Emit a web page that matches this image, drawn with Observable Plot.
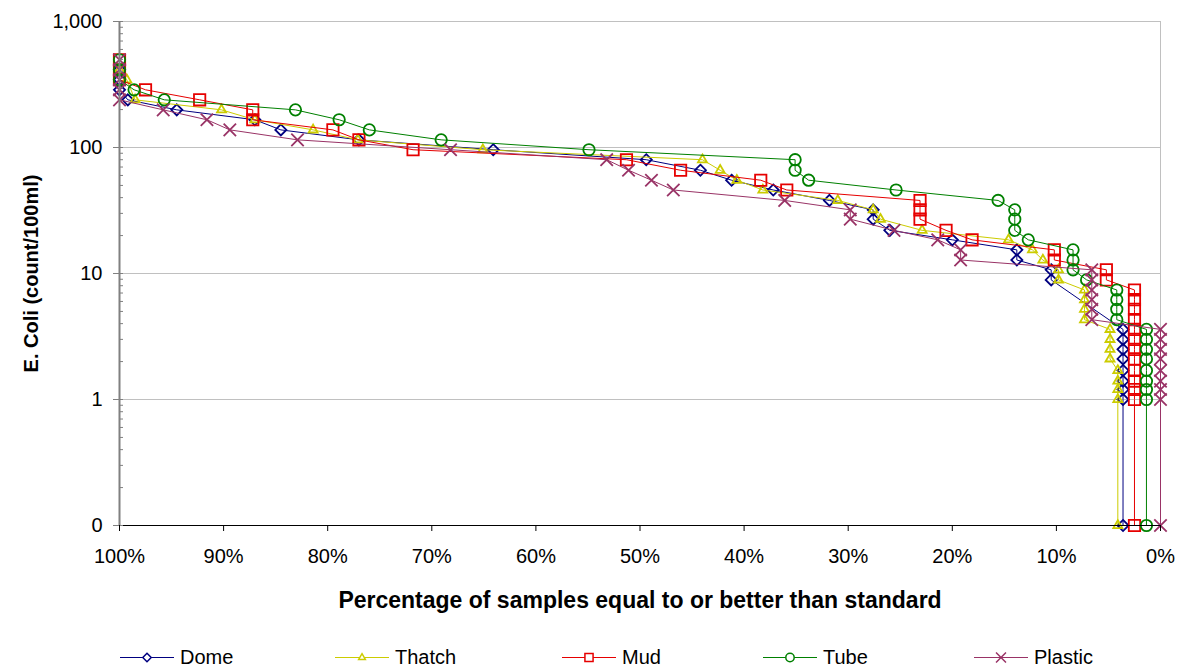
<!DOCTYPE html>
<html><head><meta charset="utf-8">
<script src="https://cdn.jsdelivr.net/npm/d3@7"></script>
<script src="https://cdn.jsdelivr.net/npm/@observablehq/plot@0.6"></script>
<style>
body{margin:0;background:#fff;font-family:"Liberation Sans",Arial,sans-serif;}
#wrap{position:relative;width:1187px;height:670px;overflow:hidden;}
#legend{position:absolute;left:0;top:645px;width:1187px;height:24px;}
.item{position:absolute;top:0;height:24px;display:flex;align-items:center;font-size:20px;color:#000;white-space:nowrap;}
.item svg{margin-right:6px;}
</style></head><body><div id="wrap"><div id="chart"></div><div id="legend"></div></div>
<script>
// ---- data (x = % of samples equal to or better than standard, y = E. coli count/100ml; 0 = none detected)
const domePct = [100,100,100, 99.2, 94.5, 87.0, 84.5, 77.0, 64.1, 49.4, 44.2, 41.2, 37.2, 31.8, 27.6, 27.6, 26.0, 20.0, 13.8, 13.8, 10.5, 10.5, 3.6,3.6,3.6,3.6,3.6,3.6,3.6,3.6, 3.6];
const domeVal = [414,345,287, 239, 199, 166, 138, 115, 96, 80, 66, 55, 46, 38, 32, 27, 22, 18.5, 15.4, 12.8, 10.7, 8.9, 3.6,3.0,2.5,2.1,1.7,1.4,1.2,1.0, 0];

const thatchPct = [100, 99.3, 98.5, 90.2, 87.0, 81.4, 77.1, 65.1, 44.0, 42.3, 40.7, 38.2, 31.0, 27.6, 26.9, 22.9, 14.6, 12.3, 11.3, 9.8, 9.8, 7.3,7.3,7.3,7.3, 4.85,4.85,4.85,4.85, 4.1,4.1,4.1,4.1, 4.1];
const thatchVal = [414, 345, 239, 199, 166, 138, 115, 96, 80, 66, 55, 46, 38, 32, 27, 22, 18.5, 15.4, 12.8, 10.7, 8.9, 7.4,6.2,5.2,4.3, 3.6,3.0,2.5,2.1, 1.7,1.4,1.2,1.0, 0];

const mudPct = [100,100,100, 97.5, 92.3, 87.2, 87.2, 79.5, 77.0, 71.8, 51.3, 46.1, 38.4, 35.9, 23.1, 23.1, 23.1, 20.6, 18.1, 10.2, 10.2, 5.2, 5.2, 2.5,2.5,2.5,2.5,2.5,2.5,2.5,2.5,2.5,2.5,2.5,2.5, 2.5];
const mudVal = [497,414,345, 287, 239, 199, 166, 138, 115, 96, 80, 66, 55, 46, 38, 32, 27, 22, 18.5, 15.4, 12.8, 10.7, 8.9, 7.4,6.2,5.2,4.3,3.6,3.0,2.5,2.1,1.7,1.4,1.2,1.0, 0];

const tubePct = [100,100,100, 98.6, 95.7, 83.1, 78.9, 76.0, 69.1, 54.9, 35.1, 35.1, 33.8, 25.4, 15.6, 14.0,14.0,14.0, 12.7, 8.4,8.4,8.4, 7.1, 4.2,4.2,4.2,4.2, 1.35,1.35,1.35,1.35,1.35,1.35,1.35,1.35, 1.35];
const tubeVal = [497,414,345, 287, 239, 199, 166, 138, 115, 96, 80, 66, 55, 46, 38, 32,27,22, 18.5, 15.4,12.8,10.7, 8.9, 7.4,6.2,5.2,4.3, 3.6,3.0,2.5,2.1,1.7,1.4,1.2,1.0, 0];

const plasticPct = [100,100,100,100,100, 95.8, 91.6, 89.4, 82.9, 68.2, 53.2, 51.1, 48.9, 46.8, 36.1, 29.8, 29.8, 25.6, 21.4, 19.2, 19.2, 6.6,6.6,6.6,6.6,6.6,6.6, 0,0,0,0,0,0,0,0, 0];
const plasticVal = [497,414,345,287,239, 199, 166, 138, 115, 96, 80, 66, 55, 46, 38, 32, 27, 22, 18.5, 15.4, 12.8, 10.7,8.9,7.4,6.2,5.2,4.3, 3.6,3.0,2.5,2.1,1.7,1.4,1.2,1.0, 0];

const seriesNames = ["Dome","Thatch","Mud","Tube","Plastic"];
const seriesColors = ["#000080","#cccc00","#e60000","#008000","#993366"];
const seriesSymbols = ["diamond2","triangle2","square","circle","times"];
const seriesR = [5.0, 4.3, 6.4, 5.7, 5.7];

const xTicks = [100,90,80,70,60,50,40,30,20,10,0];
const yTicks = [0.1,1,10,100,1000];
const yTickLabels = ["0","1","10","100","1,000"];
const yMinor = [0.2,0.3,0.4,0.5,0.6,0.7,0.8,0.9,2,3,4,5,6,7,8,9,20,30,40,50,60,70,80,90,200,300,400,500,600,700,800,900];
const xTitle = "Percentage of samples equal to or better than standard";
const yTitle = "E. Coli (count/100ml)";

// ---- build
const pcts = [domePct, thatchPct, mudPct, tubePct, plasticPct];
const vals = [domeVal, thatchVal, mudVal, tubeVal, plasticVal];
const series = seriesNames.map((name, k) => ({
  name, color: seriesColors[k], symbol: seriesSymbols[k], r: seriesR[k],
  rows: pcts[k].map((p, i) => ({p, v: vals[k][i]}))
}));
const yv = d => d.v === 0 ? 0.1 : d.v;
const W = 1187, ML = 119, MR = 27, MT = 21, MB = 100, H = 625;
const frameW = W - ML - MR;

const chart = Plot.plot({
  width: W, height: H,
  marginLeft: ML, marginRight: MR, marginTop: MT, marginBottom: MB,
  style: {fontFamily: "'Liberation Sans', Arial, sans-serif", fontSize: "20px", color: "#000", background: "#fff"},
  x: {domain: [100, 0]},
  y: {type: "log", domain: [0.1, 1000]},
  marks: [
    Plot.ruleY([1, 10, 100, 1000], {stroke: "#c0c0c0", strokeWidth: 1}),
    Plot.ruleX([0], {stroke: "#c0c0c0", strokeWidth: 1}),
    ...series.flatMap(s => [
      Plot.line(s.rows, {x: "p", y: yv, stroke: s.color, strokeWidth: 1, curve: "linear"}),
      Plot.dot(s.rows, {x: "p", y: yv, symbol: s.symbol, r: s.r, stroke: s.color, fill: "none", strokeWidth: 1.8})
    ]),
    Plot.ruleY([0.1], {stroke: "#000", strokeWidth: 1}),
    Plot.ruleX([100], {stroke: "#808080", strokeWidth: 2}),
    Plot.tickY(yMinor.concat(yTicks), {y: d => d, stroke: "#808080", strokeWidth: 1, insetRight: frameW - 4}),
    Plot.axisY({ticks: yTicks, tickFormat: d => yTickLabels[yTicks.indexOf(d)], tickSize: 6, tickPadding: 11, stroke: "#808080", strokeWidth: 1, label: null, fontSize: 20}),
    Plot.axisX({ticks: xTicks, tickFormat: d => d + "%", tickSize: 6, tickPadding: 17, stroke: "#000", label: null, fontSize: 20}),
    Plot.text([xTitle], {text: d => d, frameAnchor: "bottom", dy: 75, textAnchor: "middle", lineAnchor: "middle", fontWeight: "bold", fontSize: 23}),
    Plot.text([yTitle], {text: d => d, frameAnchor: "left", dx: -88, rotate: -90, textAnchor: "middle", lineAnchor: "middle", fontWeight: "bold", fontSize: 20})
  ]
});
document.getElementById("chart").appendChild(chart);

// ---- legend
const legendX = [120, 335, 562, 763, 974];
const symMap = {diamond2: d3.symbolDiamond2, triangle2: d3.symbolTriangle2, square: d3.symbolSquare, circle: d3.symbolCircle, times: d3.symbolTimes};
const legendR = [3.8, 3.2, 4.6, 4.2, 4.6];
const leg = d3.select("#legend");
series.forEach((s, k) => {
  const it = leg.append("div").attr("class", "item").style("left", legendX[k] + "px");
  const svg = it.append("svg").attr("width", 54).attr("height", 24);
  svg.append("line").attr("x1", 0).attr("x2", 54).attr("y1", 12.5).attr("y2", 12.5).attr("stroke", s.color).attr("stroke-width", 1);
  svg.append("path").attr("transform", "translate(27,12.5)")
    .attr("d", d3.symbol(symMap[s.symbol], Math.PI * legendR[k] * legendR[k])())
    .attr("fill", "#fff").attr("stroke", s.color).attr("stroke-width", 1.5);
  it.append("span").text(s.name);
});
</script></body></html>
